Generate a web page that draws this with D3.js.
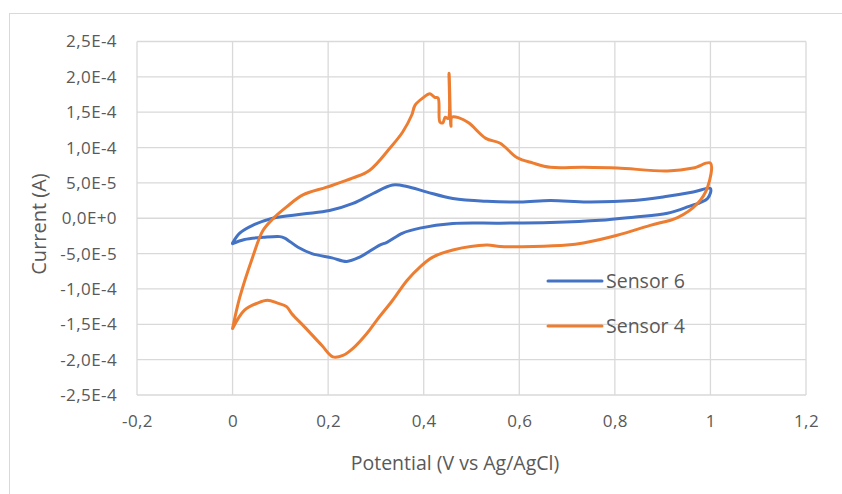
<!DOCTYPE html>
<html>
	<head>
		<meta charset="utf-8">
		<script src="https://d3js.org/d3.v7.min.js"></script>
		<style>
			body { margin: 0; background: #fff; }
			text {
			  font-family: "Open Sans", "Liberation Sans", sans-serif;
			  fill: #595959;
			}
			.grid line { stroke: #d9d9d9; stroke-width: 1.3; }
			.domain { display: none; }
			.tick line { display: none; }
		</style>
	</head>
	<body>
		<svg width="842" height="494"></svg>

		<script type="text/javascript">
			// Sensor 6 (blue) - potential (V) and current (A)
			var sensor6V = [0, 0.015, 0.042, 0.084, 0.147, 0.203, 0.252, 0.294, 0.335, 0.365, 0.407, 0.461, 0.532, 0.602, 0.665, 0.742, 0.839, 0.91, 0.964, 1.0,
			  0.994, 0.952, 0.91, 0.839, 0.769, 0.665, 0.56, 0.461, 0.392, 0.356, 0.323, 0.308, 0.266, 0.239, 0.208, 0.166, 0.137, 0.109, 0.099, 0.065, 0.025, 0];
			var sensor6I = [-3.5e-5, -2.1e-5, -1.0e-5, 0, 0.6e-5, 1.1e-5, 2.1e-5, 3.5e-5, 4.7e-5, 4.5e-5, 3.7e-5, 2.8e-5, 2.4e-5, 2.3e-5, 2.5e-5, 2.3e-5, 2.5e-5, 3.1e-5, 3.7e-5, 4.2e-5,
			  2.8e-5, 1.6e-5, 0.7e-5, 0.15e-5, -0.3e-5, -0.6e-5, -0.7e-5, -0.75e-5, -1.4e-5, -2.1e-5, -3.4e-5, -3.8e-5, -5.5e-5, -6.1e-5, -5.6e-5, -5.0e-5, -4.1e-5, -2.8e-5, -2.6e-5, -2.7e-5, -3.0e-5, -3.6e-5];

			// Sensor 4 (orange)
			var sensor4V = [0, 0.015, 0.042, 0.063, 0.084, 0.113, 0.147, 0.197, 0.252, 0.287, 0.329, 0.356, 0.375, 0.382, 0.398, 0.413, 0.423, 0.43, 0.434, 0.44, 0.445, 0.451, 0.453, 0.457, 0.459, 0.474, 0.494, 0.53, 0.56, 0.595, 0.629, 0.665, 0.734, 0.805, 0.91, 0.964, 1.0,
			  0.994, 0.973, 0.931, 0.874, 0.805, 0.734, 0.7, 0.629, 0.56, 0.532, 0.461, 0.419, 0.392, 0.365, 0.335, 0.302, 0.281, 0.252, 0.231, 0.21, 0.187, 0.151, 0.124, 0.113, 0.094, 0.073, 0.052, 0.025, 0];
			var sensor4I = [-1.56e-4, -1.12e-4, -0.55e-4, -0.18e-4, -0.01e-4, 0.16e-4, 0.33e-4, 0.44e-4, 0.57e-4, 0.68e-4, 0.99e-4, 1.22e-4, 1.46e-4, 1.6e-4, 1.7e-4, 1.76e-4, 1.71e-4, 1.7e-4, 1.36e-4, 1.35e-4, 1.43e-4, 1.41e-4, 2.05e-4, 1.3e-4, 1.43e-4, 1.42e-4, 1.35e-4, 1.13e-4, 1.06e-4, 0.86e-4, 0.78e-4, 0.72e-4, 0.72e-4, 0.71e-4, 0.67e-4, 0.71e-4, 0.78e-4,
			  0.44e-4, 0.21e-4, 0.01e-4, -0.1e-4, -0.24e-4, -0.35e-4, -0.38e-4, -0.4e-4, -0.4e-4, -0.38e-4, -0.45e-4, -0.55e-4, -0.69e-4, -0.88e-4, -1.16e-4, -1.44e-4, -1.63e-4, -1.84e-4, -1.94e-4, -1.96e-4, -1.8e-4, -1.54e-4, -1.35e-4, -1.25e-4, -1.2e-4, -1.16e-4, -1.2e-4, -1.3e-4, -1.56e-4];

			var xTicks = [-0.2, 0, 0.2, 0.4, 0.6, 0.8, 1, 1.2];
			var xTickLabels = ["-0,2", "0", "0,2", "0,4", "0,6", "0,8", "1", "1,2"];
			var yTicks = [2.5e-4, 2.0e-4, 1.5e-4, 1.0e-4, 5.0e-5, 0, -5.0e-5, -1.0e-4, -1.5e-4, -2.0e-4, -2.5e-4];
			var yTickLabels = ["2,5E-4", "2,0E-4", "1,5E-4", "1,0E-4", "5,0E-5", "0,0E+0", "-5,0E-5", "-1,0E-4", "-1,5E-4", "-2,0E-4", "-2,5E-4"];

			var seriesNames = ["Sensor 6", "Sensor 4"];
			var seriesColors = ["#4472C4", "#ED7D31"];

			var svg = d3.select("svg");

			// chart area border
			svg.append("rect")
			  .attr("x", 9.5).attr("y", 13.5)
			  .attr("width", 900).attr("height", 600)
			  .attr("fill", "none")
			  .attr("stroke", "#d9d9d9");

			var plotLeft = 137, plotRight = 806, plotTop = 41.5, plotBottom = 395;

			var x = d3.scaleLinear().domain([-0.2, 1.2]).range([plotLeft, plotRight]);
			var y = d3.scaleLinear().domain([-2.5e-4, 2.5e-4]).range([plotBottom, plotTop]);

			// gridlines
			var grid = svg.append("g").attr("class", "grid");
			grid.selectAll(".h").data(yTicks).enter().append("line")
			  .attr("x1", plotLeft).attr("x2", plotRight)
			  .attr("y1", function(d) { return y(d); })
			  .attr("y2", function(d) { return y(d); });
			grid.selectAll(".v").data(xTicks).enter().append("line")
			  .attr("y1", plotTop).attr("y2", plotBottom)
			  .attr("x1", function(d) { return x(d); })
			  .attr("x2", function(d) { return x(d); });

			// axes
			svg.append("g")
			  .attr("transform", "translate(0," + plotBottom + ")")
			  .call(d3.axisBottom(x).tickValues(xTicks).tickSize(0).tickPadding(20)
			    .tickFormat(function(d, i) { return xTickLabels[i]; }))
			  .selectAll("text").style("font-size", "17px").style("letter-spacing", "0.4px");

			svg.append("g")
			  .attr("transform", "translate(" + plotLeft + ",0)")
			  .call(d3.axisLeft(y).tickValues(yTicks).tickSize(0).tickPadding(20)
			    .tickFormat(function(d, i) { return yTickLabels[i]; }))
			  .selectAll("text").style("font-size", "17px").style("letter-spacing", "0.4px");

			svg.selectAll(".tick text").attr("fill", "#595959").style("font-family", "'Open Sans', sans-serif");

			// series lines
			var line = d3.line()
			  .curve(d3.curveCatmullRom.alpha(0.5))
			  .x(function(d) { return x(d[0]); })
			  .y(function(d) { return y(d[1]); });

			var series = [
			  d3.zip(sensor6V, sensor6I),
			  d3.zip(sensor4V, sensor4I)
			];

			svg.selectAll(".series").data(series).enter().append("path")
			  .attr("d", line)
			  .attr("fill", "none")
			  .attr("stroke", function(d, i) { return seriesColors[i]; })
			  .attr("stroke-width", 3)
			  .attr("stroke-linejoin", "round")
			  .attr("stroke-linecap", "round");

			// legend
			var legend = svg.selectAll(".legend").data(seriesNames).enter().append("g")
			  .attr("transform", function(d, i) { return "translate(548," + (281 + i * 45) + ")"; });
			legend.append("line")
			  .attr("x1", 0).attr("x2", 54)
			  .attr("stroke", function(d, i) { return seriesColors[i]; })
			  .attr("stroke-width", 3)
			  .attr("stroke-linecap", "round");
			legend.append("text")
			  .attr("x", 58).attr("dy", "0.35em")
			  .style("font-size", "19.5px")
			  .text(function(d) { return d; });

			// axis titles
			svg.append("text")
			  .attr("x", 455).attr("y", 470)
			  .attr("text-anchor", "middle")
			  .style("font-size", "19.5px")
			  .text("Potential (V vs Ag/AgCl)");

			svg.append("text")
			  .attr("transform", "translate(46,224) rotate(-90)")
			  .attr("text-anchor", "middle")
			  .style("font-size", "20px")
			  .text("Current (A)");
		</script>
	</body>
</html>
